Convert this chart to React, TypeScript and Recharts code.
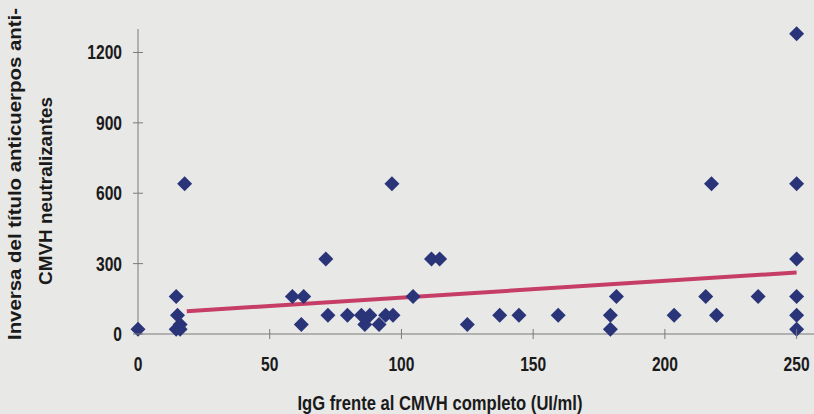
import React from 'react'
import { ScatterChart, Scatter, XAxis, YAxis } from 'recharts'

// IgG anti-CMVH (UI/ml) vs inverse neutralising titre
const igG = [
  0, 14.5, 15, 16, 14.5, 16, 17.7, 58.6, 62.9, 62, 71.3, 72.1, 79.5, 84.8, 86.1, 88,
  91.5, 94, 96.8, 96.4, 104.4, 111.4, 114.5, 125, 137.3, 144.6, 159.5, 179.3, 179.3,
  181.6, 203.5, 215.5, 217.7, 219.6, 235.4, 250, 250, 250, 250, 250, 250,
]
const titer = [
  20, 160, 80, 40, 20, 20, 640, 160, 160, 40, 320, 80, 80, 80, 40, 80,
  40, 80, 80, 640, 160, 320, 320, 40, 80, 80, 80, 80, 20,
  160, 80, 160, 640, 80, 160, 1280, 640, 320, 160, 80, 20,
]

// trend line end points
const trendIgG = [18.5, 250]
const trendTiter = [97, 262]

const xTicks = [0, 50, 100, 150, 200, 250]
const yTicks = [0, 300, 600, 900, 1200]

const points = igG.map((x, i) => ({ x, y: titer[i] }))
const trend = trendIgG.map((x, i) => ({ x, y: trendTiter[i] }))

const bg = '#e8e8e7'
const axisColor = '#7a7a7a'
const font = '"Liberation Sans", Arial, sans-serif'

const Diamond = (props: any) => {
  const { cx, cy } = props
  const r = 7.5
  return (
    <polygon
      points={`${cx},${cy - r} ${cx + r},${cy} ${cx},${cy + r} ${cx - r},${cy}`}
      fill="#2a3478"
    />
  )
}

const XTick = (props: any) => {
  const { x, y, payload } = props
  return (
    <g>
      {payload.value !== 0 && (
        <line x1={x} x2={x} y1={y - 5} y2={y + 5} stroke={axisColor} />
      )}
      <text
        transform={`translate(${x},${y + 37}) scale(0.78,1)`}
        textAnchor="middle"
        fontSize={20}
        fontWeight="bold"
        fontFamily={font}
        fill="#1a1a1a"
      >
        {payload.value}
      </text>
    </g>
  )
}

const YTick = (props: any) => {
  const { x, y, payload } = props
  return (
    <g>
      <line x1={x - 5} x2={x + 5} y1={y} y2={y} stroke={axisColor} />
      <text
        transform={`translate(${x - 16},${y + 7}) scale(0.78,1)`}
        textAnchor="end"
        fontSize={20}
        fontWeight="bold"
        fontFamily={font}
        fill="#1a1a1a"
      >
        {payload.value}
      </text>
    </g>
  )
}

const YTitle = () => (
  <g fontFamily={font} fontWeight="bold" fontSize={18.5} fill="#1a1a1a">
    <text
      transform="translate(21,174) rotate(-90)"
      textAnchor="middle"
      textLength={332}
      lengthAdjust="spacingAndGlyphs"
    >
      Inversa del título anticuerpos anti-
    </text>
    <text
      transform="translate(52,191) rotate(-90)"
      textAnchor="middle"
      textLength={188}
      lengthAdjust="spacingAndGlyphs"
    >
      CMVH neutralizantes
    </text>
  </g>
)

const XTitle = () => (
  <text
    x={440}
    y={410}
    textAnchor="middle"
    fontFamily={font}
    fontWeight="bold"
    fontSize={20.5}
    fill="#1a1a1a"
    textLength={285}
    lengthAdjust="spacingAndGlyphs"
  >
    IgG frente al CMVH completo (UI/ml)
  </text>
)

export default function App() {
  return (
    <div style={{ position: 'absolute', left: 0, top: 0, width: 814, height: 414, background: bg }}>
      <ScatterChart width={814} height={414} margin={{ top: 29, right: 0, bottom: 0, left: 0 }}>
        <XAxis
          type="number"
          dataKey="x"
          domain={[0, 256.6]}
          ticks={xTicks}
          height={80}
          stroke={axisColor}
          tickLine={false}
          tickSize={0}
          tickMargin={0}
          tick={<XTick />}
          label={<XTitle />}
        />
        <YAxis
          type="number"
          dataKey="y"
          domain={[0, 1300]}
          ticks={yTicks}
          width={138}
          stroke={axisColor}
          tickLine={false}
          tickSize={0}
          tickMargin={0}
          tick={<YTick />}
          label={<YTitle />}
        />
        <Scatter
          data={trend}
          line={{ stroke: '#c63e66', strokeWidth: 4 }}
          shape={() => null}
          isAnimationActive={false}
        />
        <Scatter data={points} shape={<Diamond />} isAnimationActive={false} />
      </ScatterChart>
    </div>
  )
}
